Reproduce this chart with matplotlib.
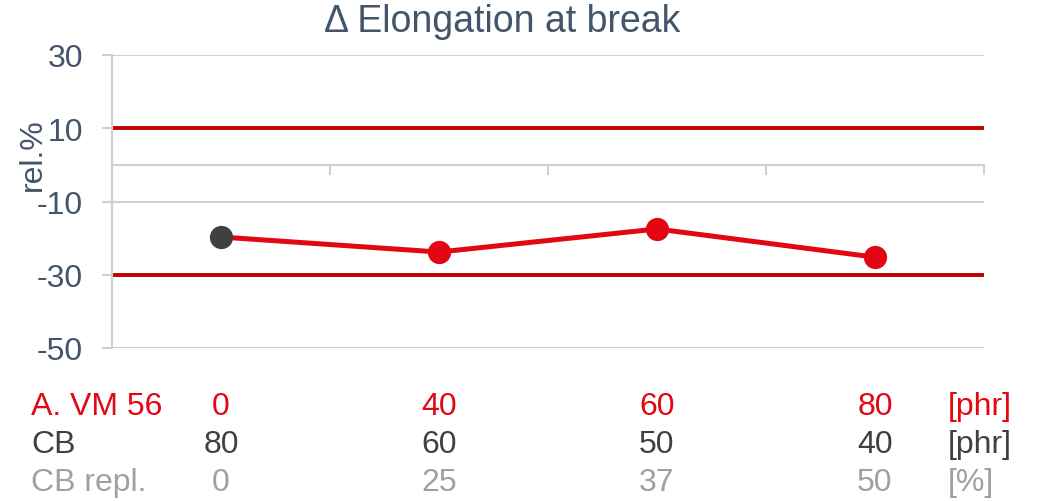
import numpy as np
import matplotlib.pyplot as plt
from matplotlib import transforms

plt.rcParams['font.family'] = ['Liberation Sans', 'DejaVu Sans']
plt.rcParams['axes.unicode_minus'] = False

# data
x_pos = [0, 1, 2, 3]
elong = [-19.7, -23.8, -17.5, -25.2]
limits = [10, -30]
row_names = ["A. VM 56", "CB", "CB repl."]
vm56 = ["0", "40", "60", "80"]
cb = ["80", "60", "50", "40"]
cb_repl = ["0", "25", "37", "50"]
units = ["[phr]", "[phr]", "[%]"]

red = "#E30613"
dark_red = "#C00000"
dark = "#404040"
light = "#A0A0A0"
axis_col = "#44546A"
grid_col = "#D0D0D0"

fig = plt.figure(figsize=(10.4, 5.02), dpi=100)
ax = fig.add_axes([112/1040, 153/502, 872/1040, 293/502])

ax.set_xlim(-0.5, 3.5)
ax.set_ylim(-50, 30)
ax.set_yticks([30, 10, -10, -30, -50])
ax.yaxis.grid(True, color=grid_col, lw=1.5)
ax.set_axisbelow(True)

for lim in limits:
    ax.axhline(lim, color=dark_red, lw=2.8, zorder=2)

ax.plot(x_pos, elong, color=red, lw=3.6, zorder=3)
ax.scatter(x_pos[1:], elong[1:], s=280, color=red, zorder=4, linewidths=0)
ax.scatter(x_pos[:1], elong[:1], s=280, color=dark, zorder=4, linewidths=0)

# axes styling
for s in ["top", "right"]:
    ax.spines[s].set_visible(False)
ax.spines["left"].set_color(grid_col)
ax.spines["left"].set_linewidth(1.5)
ax.spines["bottom"].set_position(("data", 0))
ax.spines["bottom"].set_color(grid_col)
ax.spines["bottom"].set_linewidth(1.5)
ax.set_xticks([0.5, 1.5, 2.5, 3.5])
ax.set_xticklabels([])
ax.tick_params(axis="x", direction="out", length=7, width=1.5, color=grid_col)
ax.tick_params(axis="y", direction="out", length=7, width=1.5, color=grid_col,
               labelsize=23, labelcolor=axis_col, pad=14)

fig.text(502/1040, 1 - 22/502, "Δ Elongation at break", ha="center", va="center",
         fontsize=27, color=axis_col)
fig.text(33/1040, 1 - 155/502, "rel.%", rotation=90, ha="center", va="center",
         fontsize=23, color=axis_col)

# table below the chart
trans = transforms.blended_transform_factory(ax.transData, fig.transFigure)
row_y = [87/502, 49/502, 11/502]
row_cols = [red, dark, light]
for vals, name, unit, y, c in zip([vm56, cb, cb_repl], row_names, units, row_y, row_cols):
    fig.text(31/1040, y, name, ha="left", va="baseline", fontsize=23, color=c)
    for xi, v in zip(x_pos, vals):
        ax.text(xi, y, v, transform=trans, ha="center", va="baseline", fontsize=23, color=c)
    fig.text(948/1040, y, unit, ha="left", va="baseline", fontsize=23, color=c)

fig.savefig("out.png", dpi=100)
